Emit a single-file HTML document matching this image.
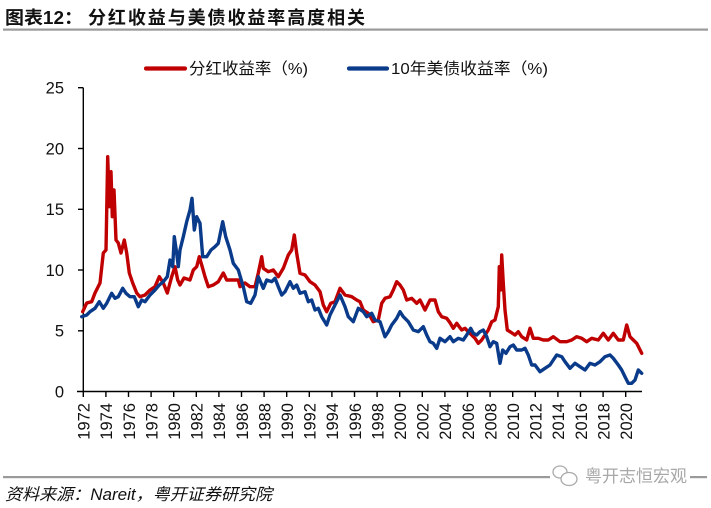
<!DOCTYPE html>
<html>
<head>
<meta charset="utf-8">
<style>
html,body{margin:0;padding:0;background:#fff;}
body{width:711px;height:508px;overflow:hidden;}
svg{display:block;}
text{font-family:"Liberation Sans","Noto Sans CJK SC",sans-serif;}
</style>
</head>
<body>
<svg width="711" height="508" viewBox="0 0 711 508" xmlns="http://www.w3.org/2000/svg">
  <!-- Title -->
  <text x="5" y="24" font-size="18" font-weight="bold" fill="#111" textLength="78" lengthAdjust="spacingAndGlyphs">图表12：</text>
  <text x="88" y="24" font-size="18" font-weight="bold" fill="#111" textLength="277" lengthAdjust="spacing">分红收益与美债收益率高度相关</text>
  <rect x="3" y="28.5" width="705" height="2.2" fill="#9a9a9a"/>

  <!-- Legend -->
  <line x1="146" y1="68.5" x2="185" y2="68.5" stroke="#c00000" stroke-width="4.2" stroke-linecap="round"/>
  <text x="189" y="74" font-size="16" fill="#111" textLength="119" lengthAdjust="spacingAndGlyphs">分红收益率（%)</text>
  <line x1="349" y1="68.5" x2="387" y2="68.5" stroke="#0a3a8a" stroke-width="4.2" stroke-linecap="round"/>
  <text x="391" y="74" font-size="16" fill="#111" textLength="157" lengthAdjust="spacingAndGlyphs">10年美债收益率（%)</text>

  <!-- Y axis -->
  <g stroke="#000" stroke-width="1.4">
    <line x1="83.3" y1="87.7" x2="83.3" y2="391.5"/>
    <line x1="78" y1="87.7" x2="83.3" y2="87.7"/>
    <line x1="78" y1="148.5" x2="83.3" y2="148.5"/>
    <line x1="78" y1="209.3" x2="83.3" y2="209.3"/>
    <line x1="78" y1="270.0" x2="83.3" y2="270.0"/>
    <line x1="78" y1="330.8" x2="83.3" y2="330.8"/>
    <line x1="77" y1="391.5" x2="642" y2="391.5"/>
  </g>
  <g font-size="16.5" fill="#111" text-anchor="end">
    <text x="64" y="93.5">25</text>
    <text x="64" y="154.3">20</text>
    <text x="64" y="215.1">15</text>
    <text x="64" y="275.8">10</text>
    <text x="64" y="336.6">5</text>
    <text x="64" y="397.3">0</text>
  </g>

  <!-- X ticks -->
  <g stroke="#000" stroke-width="1.4">
    <line x1="83.3" y1="391.5" x2="83.3" y2="397"/>
    <line x1="105.9" y1="391.5" x2="105.9" y2="397"/>
    <line x1="128.5" y1="391.5" x2="128.5" y2="397"/>
    <line x1="151.1" y1="391.5" x2="151.1" y2="397"/>
    <line x1="173.7" y1="391.5" x2="173.7" y2="397"/>
    <line x1="196.3" y1="391.5" x2="196.3" y2="397"/>
    <line x1="218.9" y1="391.5" x2="218.9" y2="397"/>
    <line x1="241.5" y1="391.5" x2="241.5" y2="397"/>
    <line x1="264.1" y1="391.5" x2="264.1" y2="397"/>
    <line x1="286.7" y1="391.5" x2="286.7" y2="397"/>
    <line x1="309.3" y1="391.5" x2="309.3" y2="397"/>
    <line x1="331.9" y1="391.5" x2="331.9" y2="397"/>
    <line x1="354.5" y1="391.5" x2="354.5" y2="397"/>
    <line x1="377.1" y1="391.5" x2="377.1" y2="397"/>
    <line x1="399.7" y1="391.5" x2="399.7" y2="397"/>
    <line x1="422.3" y1="391.5" x2="422.3" y2="397"/>
    <line x1="444.9" y1="391.5" x2="444.9" y2="397"/>
    <line x1="467.5" y1="391.5" x2="467.5" y2="397"/>
    <line x1="490.1" y1="391.5" x2="490.1" y2="397"/>
    <line x1="512.7" y1="391.5" x2="512.7" y2="397"/>
    <line x1="535.3" y1="391.5" x2="535.3" y2="397"/>
    <line x1="557.9" y1="391.5" x2="557.9" y2="397"/>
    <line x1="580.5" y1="391.5" x2="580.5" y2="397"/>
    <line x1="603.1" y1="391.5" x2="603.1" y2="397"/>
    <line x1="625.7" y1="391.5" x2="625.7" y2="397"/>
  </g>
  <g font-size="16.5" fill="#111" text-anchor="end">
    <text transform="translate(89.6,403) rotate(-90)">1972</text>
    <text transform="translate(112.2,403) rotate(-90)">1974</text>
    <text transform="translate(134.8,403) rotate(-90)">1976</text>
    <text transform="translate(157.4,403) rotate(-90)">1978</text>
    <text transform="translate(180.0,403) rotate(-90)">1980</text>
    <text transform="translate(202.6,403) rotate(-90)">1982</text>
    <text transform="translate(225.2,403) rotate(-90)">1984</text>
    <text transform="translate(247.8,403) rotate(-90)">1986</text>
    <text transform="translate(270.4,403) rotate(-90)">1988</text>
    <text transform="translate(293.0,403) rotate(-90)">1990</text>
    <text transform="translate(315.6,403) rotate(-90)">1992</text>
    <text transform="translate(338.2,403) rotate(-90)">1994</text>
    <text transform="translate(360.8,403) rotate(-90)">1996</text>
    <text transform="translate(383.4,403) rotate(-90)">1998</text>
    <text transform="translate(406.0,403) rotate(-90)">2000</text>
    <text transform="translate(428.6,403) rotate(-90)">2002</text>
    <text transform="translate(451.2,403) rotate(-90)">2004</text>
    <text transform="translate(473.8,403) rotate(-90)">2006</text>
    <text transform="translate(496.4,403) rotate(-90)">2008</text>
    <text transform="translate(519.0,403) rotate(-90)">2010</text>
    <text transform="translate(541.6,403) rotate(-90)">2012</text>
    <text transform="translate(564.2,403) rotate(-90)">2014</text>
    <text transform="translate(586.8,403) rotate(-90)">2016</text>
    <text transform="translate(609.4,403) rotate(-90)">2018</text>
    <text transform="translate(632.0,403) rotate(-90)">2020</text>
  </g>

  <!-- Red series: dividend yield -->
  <polyline fill="none" stroke="#c00000" stroke-width="3.4" stroke-linejoin="round" stroke-linecap="round"
    points="82.7,311.7 86.7,303 91.7,301.7 95,293 100,283 103.3,253 106,250 107.7,156.7 109.3,206.7 111,171.7 112.3,216.7 114,190 116,240 118.3,243 121,253 124.3,240 126.7,253 129.3,273 132.7,283 136.7,293 140,296.7 145,295 150,290 155,286.7 159.3,276.7 163.3,283 167.3,293 171.7,276.7 175,266.7 177.7,280 180,285 184,278 190,280 193.3,270 196.7,266.7 199.3,256.7 201.7,265 205,276.7 208.3,286.7 213.3,285 218.3,281.7 223.3,273 226.7,280 233.3,280 238.3,280 240,286.7 245,283 250,286.7 255,286.7 258.3,273 261.7,256.7 263.3,268.3 268.3,271.7 273.3,270 278.3,276.7 283.3,268.3 288.3,255 291.7,250 294.3,235 296.7,253.3 300,273.3 305,275 310,281.7 315,285 320,291.7 323.3,305 326.7,311.7 330.7,303.3 335,301.7 340,288.3 345,295 351.7,296.7 356.7,300 360,301.7 363.3,310 368.3,313.3 373.3,321.7 378.3,320 381.7,303.3 385,298.3 390,296.7 393.3,290 396.7,281.7 400,285 403.3,290 406.7,300 411.7,298.3 416.7,303.3 420,300 425,310 430,300 435,300 438.3,311.7 441.7,316.7 446.7,318.3 450,322.7 453.3,328.3 456.7,323.3 461.7,330 465,328.3 468.3,331.7 471.7,335 475,338.3 478.3,343.3 481.7,340 485,335 488.3,330 491.7,321.7 495,320 498.3,306.7 499.3,266.7 500.7,290 501.7,255 503.3,283.3 505,310 507.3,330 510,331.7 515,335 518.3,331.7 521.7,336.7 526.7,340 530,328.3 533.3,338.3 538.3,338.3 543.3,340 548.3,340 553.3,336.7 560,341.7 566.7,341.7 571.7,340 576.7,336.7 581.7,338.3 586.7,341.7 591.7,338.3 598.3,340 603.3,333.3 608.3,340 613.3,333.3 618.3,340 623.3,340 626.7,325 630,336.7 633.3,340 636.7,343.3 641.7,353.3"/>

  <!-- Blue series: 10Y treasury yield -->
  <polyline fill="none" stroke="#0a3a8a" stroke-width="3.4" stroke-linejoin="round" stroke-linecap="round"
    points="81.7,316.7 86.7,315 90,311.7 95,308.3 99.3,301.7 103.3,308.3 106.7,303.3 111.7,293.3 115,298.3 118.3,296.7 122.7,288.3 126,293.3 130,296.7 134.3,296.7 138.3,306.7 141.7,300 145,301.7 150,295 155,290 159.3,285 163.3,281.7 167.3,276.7 170,260 172.7,266.7 174.3,236.7 176.7,253.3 178.3,266.7 180,250 183.3,236.7 186.7,221.7 190,210 192,198.3 194.3,230 196.7,216.7 200,223.3 202.7,256.7 206.7,256.7 211,250 215,246.7 218.3,243.3 222.7,221.7 225.7,236.7 230,250 233.3,263.3 238.3,270 243.3,286.7 246.7,301.7 250.7,303.3 255,295 258.3,276.7 263.3,288.3 266.7,280 271.7,281.7 275,278.3 278.3,286.7 281.7,295 285,291.7 290,281.7 293.3,288.3 296.7,285 300,293.3 305,291.7 308.3,301.7 311.7,300 315,310 318.3,308.3 321.7,316.7 326.7,325 330,315 335,305 340,295 345,306.7 348.3,316.7 353.3,321.7 358.3,308.3 363.3,311.7 366.7,316.7 371.7,313.3 375,320 380,321.7 385,336.7 388.3,331.7 391.7,325 396.7,318.3 400,311.7 403.3,316.7 408.3,321.7 413.3,330 418.3,331.7 423.3,326.7 426.7,335 430,341.7 433.3,343.3 436.7,348.3 440,338.3 445,341.7 450,336.7 453.3,341.7 458.3,338.3 463.3,340 466.7,335 470.7,328.3 473.3,333.3 476.7,335 480,331.7 483.3,330 486.7,336.7 490,346.7 493.3,341.7 496.7,343.3 500,363.3 502.7,350 506,353.3 510,346.7 513.3,345 516.7,350 521.7,350 525,348.3 528.3,355 531.7,365 535,365 540,371.7 545,368.3 550,365 553.3,360 556.7,355 561.7,356.7 565,361.7 570,368.3 575,363.3 580,366.7 585,370 590,363.3 595,365 600,361.7 605,356.7 610,355 613.3,358.3 618.3,365 621.7,370 625,376.7 628.3,383.3 631.7,383.3 635,380 638.3,370 641.7,373.3"/>

  <!-- Footer -->
  <rect x="3" y="476" width="704" height="2.2" fill="#9a9a9a"/>
  <!-- watermark -->
  <rect x="550" y="463" width="140" height="26" fill="#fff"/>
  <g fill="none" stroke="#aaa" stroke-width="1.3">
    <ellipse cx="560" cy="472" rx="7" ry="6"/>
    <ellipse cx="569" cy="479" rx="8" ry="6.5" fill="#fff"/>
  </g>
  <text x="585" y="482" font-size="17" fill="#a8a8a8" textLength="102" lengthAdjust="spacingAndGlyphs">粤开志恒宏观</text>
  <text x="5" y="500" font-size="16.5" font-style="italic" fill="#111" textLength="267" lengthAdjust="spacingAndGlyphs">资料来源：Nareit，粤开证券研究院</text>
</svg>
</body>
</html>
